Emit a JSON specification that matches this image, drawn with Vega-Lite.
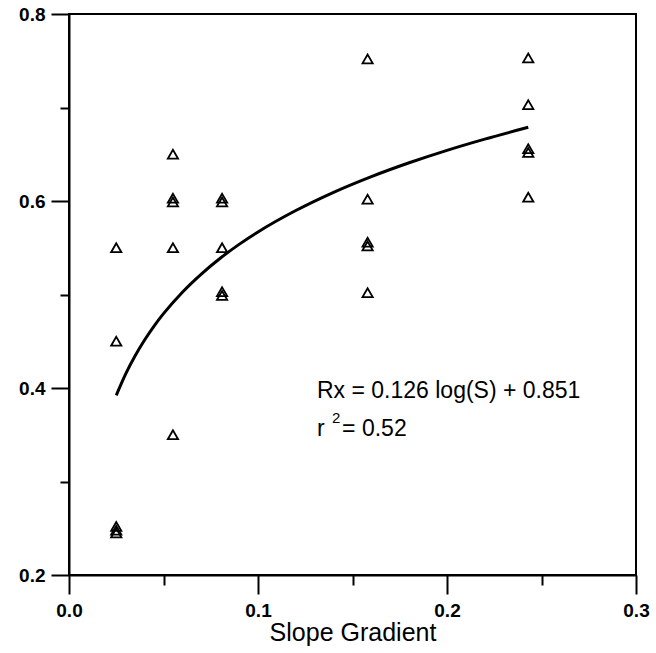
{
  "$schema": "https://vega.github.io/schema/vega-lite/v6.json",
  "width": 567,
  "height": 561,
  "autosize": {"type": "none"},
  "padding": {"left": 69, "top": 14, "right": 20, "bottom": 78},
  "background": "white",
  "config": {
    "view": {"stroke": "black", "strokeWidth": 2},
    "font": "Liberation Sans",
    "axis": {"grid": false, "domainColor": "black", "tickColor": "black", "labelColor": "black", "titleColor": "black", "labelFlush": false, "labelOverlap": false, "labelFont": "Liberation Sans"}
  },
  "datasets": {
    "points": [
      {"S": 0.025, "Rx": 0.55},
      {"S": 0.025, "Rx": 0.45},
      {"S": 0.025, "Rx": 0.252},
      {"S": 0.025, "Rx": 0.248},
      {"S": 0.025, "Rx": 0.245},
      {"S": 0.055, "Rx": 0.65},
      {"S": 0.055, "Rx": 0.603},
      {"S": 0.055, "Rx": 0.599},
      {"S": 0.055, "Rx": 0.55},
      {"S": 0.055, "Rx": 0.35},
      {"S": 0.081, "Rx": 0.603},
      {"S": 0.081, "Rx": 0.599},
      {"S": 0.081, "Rx": 0.55},
      {"S": 0.081, "Rx": 0.503},
      {"S": 0.081, "Rx": 0.499},
      {"S": 0.158, "Rx": 0.752},
      {"S": 0.158, "Rx": 0.602},
      {"S": 0.158, "Rx": 0.556},
      {"S": 0.158, "Rx": 0.552},
      {"S": 0.158, "Rx": 0.502},
      {"S": 0.243, "Rx": 0.753},
      {"S": 0.243, "Rx": 0.703},
      {"S": 0.243, "Rx": 0.656},
      {"S": 0.243, "Rx": 0.652},
      {"S": 0.243, "Rx": 0.604}
    ],
    "curve": [
      {"S": 0.025, "Rx": 0.3922},
      {"S": 0.03, "Rx": 0.4152},
      {"S": 0.035, "Rx": 0.4346},
      {"S": 0.04, "Rx": 0.4514},
      {"S": 0.045, "Rx": 0.4663},
      {"S": 0.05, "Rx": 0.4795},
      {"S": 0.06, "Rx": 0.5025},
      {"S": 0.07, "Rx": 0.5219},
      {"S": 0.08, "Rx": 0.5388},
      {"S": 0.09, "Rx": 0.5536},
      {"S": 0.1, "Rx": 0.5669},
      {"S": 0.12, "Rx": 0.5898},
      {"S": 0.14, "Rx": 0.6093},
      {"S": 0.16, "Rx": 0.6261},
      {"S": 0.18, "Rx": 0.6409},
      {"S": 0.2, "Rx": 0.6542},
      {"S": 0.22, "Rx": 0.6662},
      {"S": 0.243, "Rx": 0.6788}
    ],
    "labels": [
      {"t": "Rx = 0.126 log(S) + 0.851", "S": 0.1312, "Rx": 0.397},
      {"t": "r", "S": 0.1312, "Rx": 0.356},
      {"t": "= 0.52", "S": 0.1445, "Rx": 0.356}
    ],
    "sup": [
      {"t": "2", "S": 0.1392, "Rx": 0.368}
    ]
  },
  "layer": [
    {
      "data": {"name": "points"},
      "mark": {"type": "point", "shape": "triangle-up", "filled": false, "stroke": "black", "strokeWidth": 1.8, "size": 105, "opacity": 1},
      "encoding": {
        "x": {"field": "S", "type": "quantitative", "scale": {"domain": [0, 0.3], "nice": false, "zero": false},
          "axis": {"orient": "bottom", "values": [0, 0.05, 0.1, 0.15, 0.2, 0.25, 0.3],
            "labelExpr": "round(datum.value*20) % 2 == 0 ? format(datum.value, '.1f') : ''",
            "tickSize": {"condition": {"test": "round(datum.value*20) % 2 == 0", "value": 19}, "value": 10},
            "tickWidth": 2, "domainWidth": 2, "labelFontSize": 19, "labelFontWeight": "bold", "labelPadding": 7,
            "title": "Slope Gradient", "titleFontSize": 25, "titleFontWeight": "normal", "titlePadding": 0}},
        "y": {"field": "Rx", "type": "quantitative", "scale": {"domain": [0.2, 0.8], "nice": false, "zero": false},
          "axis": {"orient": "left", "values": [0.2, 0.3, 0.4, 0.5, 0.6, 0.7, 0.8],
            "labelExpr": "round(datum.value*10) % 2 == 0 ? format(datum.value, '.1f') : ''",
            "tickSize": {"condition": {"test": "round(datum.value*10) % 2 == 0", "value": 18}, "value": 9},
            "tickWidth": 2, "domainWidth": 2, "labelFontSize": 19, "labelFontWeight": "bold", "labelPadding": 6, "title": null}}
      }
    },
    {
      "data": {"name": "curve"},
      "mark": {"type": "line", "color": "black", "strokeWidth": 3, "interpolate": "monotone"},
      "encoding": {
        "x": {"field": "S", "type": "quantitative"},
        "y": {"field": "Rx", "type": "quantitative"}
      }
    },
    {
      "data": {"name": "labels"},
      "mark": {"type": "text", "align": "left", "baseline": "middle", "fontSize": 23, "color": "black"},
      "encoding": {
        "x": {"field": "S", "type": "quantitative"},
        "y": {"field": "Rx", "type": "quantitative"},
        "text": {"field": "t"}
      }
    },
    {
      "data": {"name": "sup"},
      "mark": {"type": "text", "align": "left", "baseline": "middle", "fontSize": 15, "color": "black"},
      "encoding": {
        "x": {"field": "S", "type": "quantitative"},
        "y": {"field": "Rx", "type": "quantitative"},
        "text": {"field": "t"}
      }
    }
  ]
}
